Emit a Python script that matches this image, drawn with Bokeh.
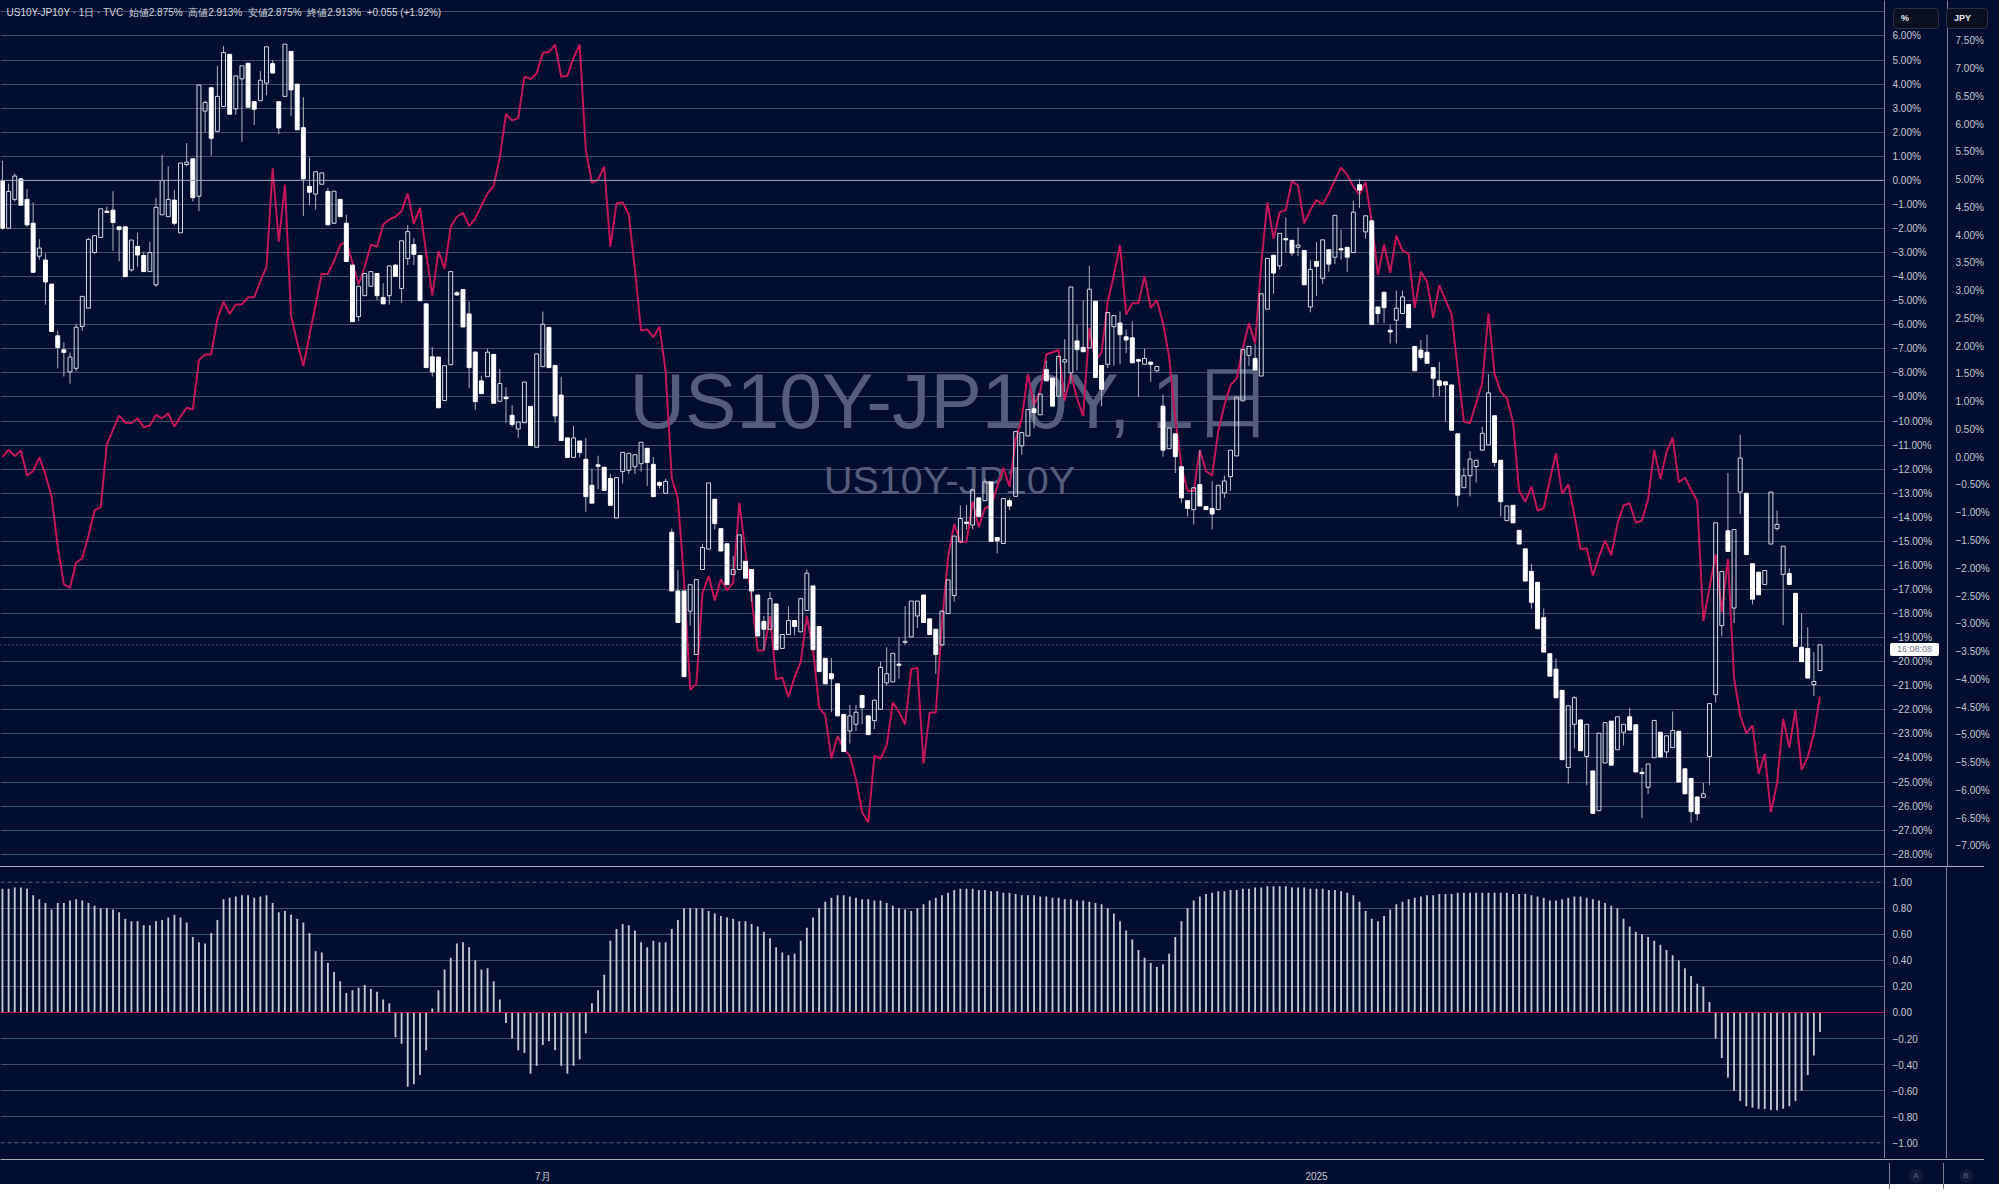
import numpy as np
from bokeh.plotting import figure
from bokeh.layouts import column
from bokeh.models import (Range1d, LinearAxis, FixedTicker, CustomJSTickFormatter, Span,
                          Label, Spacer, Grid, Div)
from bokeh.embed import file_html
from bokeh.resources import INLINE

# ---------------- data ----------------
opens = [-0.01,-1.99,-0.79,0.06,-0.79,-1.78,-3.15,-3.31,-4.31,-6.46,
-7.04,-7.96,-7.81,-6.07,-5.31,-3.00,-2.37,-1.28,-1.24,-1.93,
-1.93,-3.72,-2.75,-3.12,-3.79,-4.34,-1.43,-1.51,-0.82,-2.18,
0.66,0.90,-0.66,2.88,3.85,2.04,3.07,5.24,2.97,4.22,
4.87,3.27,3.31,4.04,4.85,3.27,3.49,5.36,4.00,2.19,
-0.25,-0.57,-0.16,-0.46,-1.78,-0.79,-1.78,-3.52,-5.66,-4.79,
-4.40,-3.87,-4.87,-4.79,-3.52,-4.49,-3.25,-2.67,-3.12,-5.13,
-7.33,-7.34,-9.15,-7.66,-4.67,-4.54,-5.55,-7.13,-8.33,-8.16,
-7.23,-9.18,-9.01,-9.76,-10.33,-10.07,-9.39,-11.09,-7.74,-6.11,
-7.69,-8.92,-10.70,-11.51,-10.83,-11.59,-12.67,-11.82,-11.92,-12.39,
-14.03,-12.10,-12.05,-11.90,-11.77,-11.13,-11.80,-12.55,-13.00,-14.62,
-17.06,-17.06,-17.90,-19.70,-16.17,-15.32,-13.25,-14.47,-15.10,-16.38,
-16.17,-15.83,-16.17,-17.23,-18.33,-18.65,-17.60,-19.45,-18.87,-18.29,
-18.76,-17.87,-16.85,-18.54,-19.86,-20.50,-20.92,-22.19,-22.88,-22.60,
-21.40,-22.25,-22.45,-21.98,-20.88,-20.84,-20.10,-19.20,-18.97,-18.10,
-17.23,-18.22,-18.65,-19.30,-18.00,-17.25,-15.02,-14.20,-14.32,-13.19,
-13.31,-12.53,-14.84,-15.09,-13.31,-13.13,-11.03,-10.62,-9.49,-9.74,
-7.86,-8.22,-8.97,-7.55,-8.00,-6.67,-6.94,-6.96,-5.02,-7.69,
-7.64,-6.08,-5.93,-6.50,-6.54,-7.45,-7.64,-7.55,-7.91,-9.38,
-11.15,-10.53,-11.90,-13.31,-13.68,-12.64,-13.55,-13.64,-13.68,-12.99,
-12.31,-11.45,-9.16,-7.27,-7.40,-8.13,-5.35,-3.11,-3.55,-2.42,
-2.49,-2.78,-2.91,-5.26,-3.37,-4.07,-2.88,-3.19,-2.84,-2.78,
-3.00,-0.18,-2.14,-1.68,-5.26,-4.65,-6.23,-5.81,-5.53,-5.16,
-6.90,-7.05,-7.14,-7.78,-8.33,-8.37,-8.50,-10.53,-12.77,-12.27,
-11.89,-11.21,-10.99,-9.78,-11.63,-14.14,-13.50,-14.54,-15.31,-16.25,
-16.70,-18.17,-19.67,-20.31,-21.19,-24.40,-22.60,-22.42,-23.94,-24.54,
-26.19,-24.21,-22.47,-23.66,-22.93,-22.29,-22.62,-24.60,-25.22,-23.99,
-22.93,-23.75,-23.57,-22.89,-24.45,-24.85,-25.62,-25.64,-23.94,-21.37,
-18.50,-14.56,-17.77,-12.95,-13.00,-15.93,-16.28,-16.79,-15.11,-14.47,
-16.37,-16.34,-17.16,-19.40,-19.45,-20.95,-20.37]

highs = [0.81,-0.13,0.28,0.10,-0.36,-0.91,-2.45,-3.03,-4.31,-6.25,
-6.73,-7.15,-5.96,-4.82,-2.40,-2.30,-1.18,-1.09,-0.45,-1.93,
-1.93,-2.48,-2.18,-2.96,-2.55,-0.72,1.07,0.58,-0.40,0.72,
1.55,0.90,3.96,3.31,3.85,4.76,5.58,5.24,4.34,4.76,
4.87,3.27,4.54,5.55,5.00,3.27,5.66,5.36,4.00,3.46,
0.96,0.36,0.31,-0.31,-0.45,-0.79,-1.43,-3.52,-4.40,-3.87,
-3.79,-3.87,-4.27,-3.55,-3.48,-2.51,-1.85,-2.40,-3.12,-5.13,
-6.93,-7.34,-7.70,-3.79,-4.60,-4.54,-5.04,-7.13,-8.12,-7.00,
-7.23,-7.84,-8.60,-9.34,-10.04,-8.38,-9.39,-7.21,-5.45,-6.11,
-7.69,-8.16,-10.70,-10.20,-10.83,-10.70,-11.97,-11.44,-11.92,-12.20,
-12.35,-11.30,-11.34,-11.40,-10.88,-11.13,-11.50,-12.50,-12.40,-14.47,
-16.20,-17.06,-16.80,-16.59,-15.10,-12.57,-13.25,-14.47,-15.10,-15.60,
-14.73,-15.83,-16.17,-17.23,-18.10,-17.10,-17.60,-18.87,-17.70,-18.29,
-17.38,-16.17,-16.85,-18.54,-19.86,-19.86,-20.92,-22.19,-21.80,-21.80,
-21.40,-22.25,-21.60,-20.00,-19.40,-19.65,-19.00,-17.70,-17.48,-17.48,
-17.23,-18.22,-18.65,-17.87,-16.59,-14.78,-13.50,-13.50,-12.86,-13.19,
-12.40,-12.53,-14.84,-13.22,-13.20,-10.44,-10.48,-9.52,-8.90,-8.88,
-7.50,-8.22,-7.31,-6.60,-4.43,-5.99,-4.98,-3.55,-5.02,-7.69,
-5.49,-5.62,-5.44,-6.20,-5.86,-7.40,-7.00,-7.55,-7.73,-8.90,
-10.29,-10.53,-11.90,-13.31,-12.77,-11.20,-13.55,-12.50,-12.67,-12.27,
-11.21,-9.01,-7.03,-6.90,-6.81,-4.71,-3.24,-3.11,-2.20,-1.54,
-2.49,-1.96,-2.91,-3.30,-2.56,-2.47,-2.88,-1.45,-2.05,-2.78,
-0.86,0.05,-1.47,-1.68,-5.26,-4.65,-6.00,-4.58,-4.58,-5.16,
-6.90,-6.63,-6.41,-7.78,-7.55,-8.37,-8.50,-10.53,-11.94,-11.25,
-11.63,-10.24,-8.06,-9.78,-11.63,-13.53,-13.50,-14.54,-15.31,-15.93,
-16.70,-17.80,-19.67,-19.87,-21.19,-21.83,-21.43,-22.42,-22.60,-24.54,
-22.97,-22.53,-22.47,-22.29,-22.60,-21.92,-22.62,-24.40,-24.25,-22.44,
-22.93,-23.08,-22.07,-22.89,-24.45,-24.85,-25.62,-25.04,-21.74,-14.23,
-16.25,-12.16,-14.51,-10.57,-13.00,-15.93,-16.28,-16.21,-12.95,-13.72,
-15.20,-16.12,-17.16,-17.99,-18.57,-19.60,-19.30]

lows = [-2.05,-2.00,-0.88,-1.03,-1.93,-3.82,-3.30,-5.16,-6.28,-7.81,
-8.15,-8.45,-7.93,-6.25,-5.31,-3.05,-2.37,-1.33,-2.93,-3.37,
-4.00,-3.80,-3.60,-3.79,-3.79,-4.43,-1.43,-1.51,-1.87,-2.18,
0.58,-0.88,-1.28,1.97,1.03,2.04,3.07,2.75,2.72,1.60,
3.04,2.30,3.31,3.54,4.46,1.93,3.49,2.67,2.10,-1.48,
-1.03,-1.21,-0.16,-1.85,-1.81,-1.51,-3.37,-5.87,-5.84,-4.79,
-4.40,-4.97,-5.13,-5.16,-3.99,-5.09,-3.52,-3.52,-5.00,-7.78,
-8.15,-9.45,-9.15,-7.66,-4.80,-6.09,-8.64,-9.54,-8.86,-8.16,
-9.26,-9.18,-10.07,-10.25,-10.70,-10.07,-11.02,-11.09,-7.74,-7.78,
-10.07,-10.81,-11.51,-11.51,-11.51,-13.77,-13.41,-12.82,-12.88,-13.50,
-14.03,-12.60,-12.20,-12.20,-12.10,-12.70,-13.14,-12.80,-13.00,-17.06,
-18.37,-20.62,-18.50,-19.70,-16.17,-15.32,-14.50,-15.40,-16.80,-16.38,
-16.17,-16.53,-17.50,-18.93,-19.50,-18.65,-19.50,-19.45,-18.87,-18.90,
-18.76,-17.87,-19.50,-20.41,-20.92,-22.10,-22.25,-23.73,-23.40,-22.88,
-22.60,-23.03,-22.80,-21.98,-21.00,-20.84,-20.70,-19.30,-18.97,-18.60,
-18.37,-18.87,-20.50,-19.36,-18.02,-17.50,-15.02,-14.50,-14.50,-13.96,
-13.31,-15.00,-15.50,-15.09,-13.70,-13.13,-11.40,-10.62,-10.30,-9.74,
-8.33,-9.38,-8.97,-8.80,-8.46,-7.90,-7.12,-6.96,-8.19,-9.38,
-7.80,-7.70,-7.64,-7.18,-7.58,-9.00,-7.64,-8.37,-8.00,-11.48,
-11.15,-12.16,-13.40,-13.96,-14.30,-13.53,-13.68,-14.50,-13.68,-13.20,
-12.90,-11.45,-9.16,-7.70,-7.88,-8.13,-5.35,-4.71,-3.70,-3.00,
-3.15,-3.15,-4.34,-5.48,-4.80,-4.30,-3.80,-3.48,-3.30,-3.80,
-3.00,-1.14,-2.42,-5.99,-5.93,-5.93,-6.78,-6.78,-5.53,-6.12,
-7.91,-7.45,-7.60,-9.01,-8.96,-10.02,-10.38,-13.55,-12.77,-13.13,
-12.55,-11.21,-10.99,-11.89,-13.96,-14.14,-14.23,-15.11,-16.65,-17.80,
-18.63,-19.60,-20.60,-21.50,-24.07,-25.07,-23.60,-23.70,-25.13,-26.30,
-26.19,-24.21,-24.30,-23.66,-23.48,-22.84,-24.58,-26.50,-25.50,-23.99,
-23.96,-24.00,-23.57,-25.00,-25.49,-26.69,-26.60,-25.64,-25.13,-21.70,
-18.94,-15.42,-18.39,-13.87,-15.55,-17.62,-17.22,-16.79,-15.11,-14.55,
-18.48,-16.79,-19.36,-20.00,-20.68,-21.43,-20.37]

closes = [-1.99,-0.46,0.18,-1.03,-1.85,-3.82,-2.81,-4.22,-6.28,-6.94,
-7.15,-7.34,-6.10,-4.82,-2.45,-2.30,-1.18,-1.33,-1.75,-2.04,
-4.00,-2.48,-3.10,-3.79,-3.00,-1.12,-0.01,-0.79,-1.78,0.72,
0.76,-0.72,3.96,3.24,1.75,3.49,5.31,2.75,4.34,4.76,
3.04,2.96,4.16,5.55,4.46,2.18,5.66,3.76,2.10,0.06,
-0.49,0.36,0.31,-1.85,-0.45,-1.51,-3.37,-5.87,-4.40,-3.87,
-3.79,-4.79,-5.13,-3.55,-3.99,-2.51,-2.13,-3.07,-5.00,-7.78,
-7.96,-9.45,-7.70,-3.79,-4.76,-6.09,-7.78,-9.19,-8.86,-7.14,
-9.26,-8.44,-9.07,-10.14,-10.04,-8.38,-11.02,-7.21,-5.98,-7.78,
-9.79,-10.81,-11.51,-10.70,-11.30,-13.14,-13.41,-11.88,-12.88,-13.50,
-12.35,-11.30,-11.34,-11.40,-10.88,-11.72,-13.14,-12.67,-12.51,-17.06,
-18.37,-20.62,-16.80,-16.59,-15.26,-12.57,-14.26,-15.40,-16.80,-16.17,
-14.73,-16.53,-17.06,-18.93,-18.65,-17.38,-19.50,-18.87,-18.29,-18.54,
-17.38,-16.32,-19.50,-20.41,-20.92,-20.71,-22.25,-23.73,-22.25,-22.10,
-21.90,-23.03,-21.60,-20.24,-20.50,-19.65,-20.15,-19.15,-17.48,-17.48,
-18.37,-18.87,-19.70,-17.90,-16.60,-14.78,-14.05,-14.25,-12.86,-13.96,
-12.53,-15.00,-14.98,-13.22,-13.53,-10.44,-10.48,-9.52,-9.65,-8.88,
-8.33,-9.38,-7.31,-7.45,-4.43,-7.03,-7.12,-4.52,-8.19,-8.68,
-5.49,-5.62,-6.41,-6.63,-7.58,-7.51,-7.40,-7.64,-7.73,-11.21,
-10.29,-11.48,-13.19,-13.63,-12.77,-13.53,-13.68,-13.86,-12.67,-12.49,
-11.21,-9.01,-7.03,-6.90,-7.88,-4.71,-3.24,-3.85,-2.20,-2.47,
-3.02,-2.69,-4.34,-3.70,-3.57,-2.47,-3.48,-1.45,-2.89,-3.19,
-1.32,-0.40,-1.47,-5.99,-5.53,-5.29,-6.30,-5.31,-4.84,-6.12,
-7.91,-7.36,-7.60,-8.22,-8.52,-8.50,-10.38,-13.08,-12.27,-11.58,
-11.63,-10.51,-8.83,-11.72,-13.35,-13.53,-14.23,-15.11,-16.65,-17.53,
-18.63,-19.60,-20.60,-21.50,-24.07,-21.83,-21.50,-23.70,-22.60,-26.30,
-22.97,-22.53,-24.30,-22.29,-22.60,-22.84,-24.58,-24.65,-24.25,-22.44,
-23.96,-23.08,-22.86,-25.00,-25.49,-26.23,-26.32,-25.49,-21.74,-14.23,
-16.25,-15.42,-14.51,-11.54,-15.55,-17.40,-17.22,-16.21,-12.95,-14.29,
-15.20,-16.79,-19.36,-20.00,-20.68,-20.82,-19.30]

# JPY overlay (right-most axis, %)
jpy = [0.00,0.13,0.02,0.12,-0.33,-0.25,0.00,-0.31,-0.71,-1.61,
-2.29,-2.35,-1.90,-1.82,-1.42,-0.96,-0.90,0.23,0.49,0.75,
0.62,0.61,0.70,0.54,0.57,0.76,0.70,0.79,0.55,0.73,
0.89,0.86,1.75,1.85,1.85,2.49,2.80,2.58,2.75,2.75,
2.88,2.88,3.17,3.43,5.20,3.88,4.91,2.55,2.07,1.64,
2.20,2.75,3.30,3.30,3.53,3.82,3.88,3.50,3.11,3.43,
3.83,3.79,4.19,4.28,4.33,4.43,4.75,4.20,4.49,3.68,
2.91,3.71,3.39,4.15,4.33,4.40,4.16,4.30,4.53,4.75,
4.89,5.40,6.18,6.06,6.11,6.85,6.81,6.91,7.28,7.30,
7.43,6.85,6.87,7.19,7.43,5.53,4.94,5.00,5.23,3.79,
4.57,4.59,4.37,3.38,2.28,2.30,2.16,2.35,1.54,-0.38,
-0.75,-2.22,-4.19,-4.08,-2.45,-2.14,-2.58,-2.20,-2.40,-2.26,
-0.82,-1.71,-2.54,-3.48,-3.48,-2.86,-4.00,-3.97,-4.32,-3.96,
-3.69,-2.86,-3.46,-4.51,-4.65,-5.43,-5.02,-5.25,-5.38,-5.80,
-6.39,-6.58,-5.38,-5.43,-5.19,-4.42,-4.59,-4.81,-3.82,-3.79,
-5.52,-4.60,-4.60,-3.00,-1.80,-1.20,-1.53,-1.52,-0.80,-1.26,
-0.92,-0.88,-0.53,-0.19,-0.53,0.31,0.70,1.50,0.94,1.18,
1.85,1.89,1.93,1.02,1.50,1.06,0.74,2.33,1.73,1.89,
2.80,3.28,3.82,2.57,2.77,2.77,3.26,2.69,2.83,2.41,
1.81,0.70,-0.17,-0.61,-0.61,0.13,-0.25,-0.33,0.47,0.94,
1.30,1.42,1.97,2.41,2.05,3.48,4.59,3.93,4.41,4.45,
4.97,4.89,4.21,4.45,4.63,4.55,4.75,4.99,5.22,5.08,
4.87,4.73,4.95,4.23,3.28,3.83,3.32,3.99,3.72,3.66,
2.69,3.34,3.16,2.51,3.10,2.83,2.57,1.58,0.64,0.61,
0.98,1.34,2.59,1.50,1.18,1.06,0.64,-0.61,-0.80,-0.53,
-0.96,-0.92,-0.41,0.07,-0.66,-0.49,-1.04,-1.66,-1.64,-2.13,
-1.79,-1.50,-1.77,-1.20,-0.87,-0.83,-1.18,-1.14,-0.76,0.13,
-0.39,0.09,0.35,-0.45,-0.37,-0.58,-0.79,-2.95,-2.35,-1.75,
-2.79,-1.83,-3.98,-4.65,-4.97,-4.83,-5.70,-5.34,-6.39,-5.87,
-4.71,-5.23,-4.55,-5.63,-5.40,-4.97,-4.31]

# correlation coefficient (lower pane)
corr = [0.95,0.95,0.96,0.96,0.95,0.90,0.87,0.84,0.79,0.84,
0.84,0.86,0.87,0.86,0.84,0.82,0.80,0.80,0.79,0.77,
0.72,0.70,0.70,0.67,0.67,0.70,0.71,0.73,0.75,0.73,
0.69,0.58,0.54,0.53,0.61,0.71,0.87,0.88,0.89,0.90,
0.90,0.88,0.89,0.90,0.84,0.77,0.78,0.75,0.72,0.69,
0.61,0.47,0.46,0.38,0.31,0.24,0.15,0.17,0.19,0.21,
0.18,0.16,0.10,0.07,-0.19,-0.24,-0.57,-0.55,-0.48,-0.29,
0.03,0.17,0.33,0.42,0.53,0.54,0.50,0.40,0.33,0.34,
0.24,0.10,-0.08,-0.20,-0.29,-0.31,-0.47,-0.41,-0.25,-0.22,
-0.29,-0.41,-0.47,-0.41,-0.36,-0.16,0.07,0.17,0.29,0.55,
0.64,0.68,0.67,0.63,0.54,0.50,0.55,0.54,0.54,0.64,
0.71,0.80,0.80,
0.80,0.80,0.78,0.76,0.74,0.73,0.72,0.70,
0.70,0.68,0.66,0.62,0.57,0.50,0.46,0.44,
0.45,0.55,0.65,0.73,0.80,0.85,0.88,
0.90,0.90,0.89,0.88,0.87,0.87,0.86,0.86,0.84,0.82,0.80,0.79,
0.78,0.80,0.83,0.86,0.88,0.90,
0.92,0.94,0.95,0.95,0.95,0.94,0.94,0.93,0.93,0.92,0.92,0.91,0.90,0.90,0.90,0.89,0.89,
0.88,0.88,0.87,0.87,0.86,0.86,0.85,0.84,0.83,0.80,0.76,
0.70,0.63,0.56,0.48,0.42,0.38,0.35,0.37,
0.45,0.58,0.70,0.80,0.86,0.89,0.91,
0.92,0.93,0.93,0.94,0.94,0.95,0.95,0.96,0.96,0.97,0.97,0.97,0.97,0.96,0.96,0.96,0.95,0.95,0.95,0.94,0.94,0.93,0.92,0.90,
0.85,0.78,0.72,0.70,0.74,0.79,
0.83,0.85,0.87,0.88,0.89,0.90,0.90,0.91,0.91,0.91,0.92,0.92,0.92,0.92,0.92,0.92,0.92,0.92,0.92,0.91,0.91,0.91,0.90,0.89,0.88,0.86,0.86,0.87,0.88,
0.89,0.89,0.88,0.87,0.86,0.84,0.82,0.80,
0.72,0.66,0.62,0.60,0.58,0.55,0.52,0.48,0.44,0.40,0.34,0.28,0.22,0.20,
0.08,
-0.20,-0.35,-0.50,-0.60,-0.68,-0.72,-0.73,-0.74,-0.74,-0.75,-0.75,-0.74,-0.72,-0.68,-0.60,-0.48,-0.33,-0.15]

pct_ticks = list(range(-28, 7))
pct_grid = list(range(-28, 8))
jpy_ticks = [k / 2 for k in range(-14, 16)]
corr_ticks = [-1.0, -0.8, -0.6, -0.4, -0.2, 0.0, 0.2, 0.4, 0.6, 0.8, 1.0]
corr_grid = [-0.8, -0.6, -0.4, -0.2, 0.2, 0.4, 0.6, 0.8]
x_ticks = [88, 214]
x_labels = {88: "7月", 214: "2025"}
header = "US10Y-JP10Y · 1日 · TVC\u00a0\u00a0始値2.875%\u00a0\u00a0高値2.913%\u00a0\u00a0安値2.875%\u00a0\u00a0終値2.913%\u00a0\u00a0+0.055 (+1.92%)"
watermark1 = "US10Y-JP10Y, 1日"
watermark2 = "US10Y-JP10Y"
countdown = "16:08:08"
scale_names = ["%", "JPY"]
pane_tags = ["A", "B"]

# ---------------- style ----------------
BG = "#010e30"
GRID = "#444e6a"
SEP = "#a9adb9"
AXLINE = "#7c8295"
LBL = "#c4c7cf"
CRIMSON = "#c2185b"
FONT = "Liberation Sans"
FW = 1884
H_MAIN = 866
H_LOW = 291
TOTAL_W = 1984
X0, X1 = -0.32, 306.5
Y0, Y1 = -28.51, 7.475
STRIP_TOP = H_MAIN + 1 + H_LOW
STRIP_H = 26

n = min(len(opens), len(highs), len(lows), len(closes), len(jpy), len(corr))
idx = np.arange(n)
o = np.array(opens[:n]); h = np.array(highs[:n]); l = np.array(lows[:n]); c = np.array(closes[:n])
top = np.maximum(o, c); bot = np.minimum(o, c)
up = c >= o

PCT_JS = "const v = Math.abs(tick) < 1e-9 ? 0 : tick; return (v < 0 ? '\u2212' : '') + Math.abs(v).toFixed(2) + '%';"
NUM_JS = "const v = Math.abs(tick) < 1e-9 ? 0 : tick; return (v < 0 ? '\u2212' : '') + Math.abs(v).toFixed(2);"


def style_axis(ax, pad):
    ax.axis_line_color = AXLINE
    ax.major_tick_line_color = None
    ax.minor_tick_line_color = None
    ax.major_tick_out = 0
    ax.major_tick_in = 0
    ax.minor_tick_out = 0
    ax.minor_tick_in = 0
    ax.major_label_text_color = LBL
    ax.major_label_text_font_size = "10px"
    ax.major_label_text_font = FONT
    ax.major_label_standoff = 8
    if pad is not None:
        ax.axis_label = "\u00a0"
        ax.axis_label_text_font_size = "1px"
        ax.axis_label_text_alpha = 0
        ax.axis_label_standoff = pad


def make_fig(**kw):
    f = figure(output_backend="svg", toolbar_location=None, min_border=0,
               background_fill_color=BG, border_fill_color=BG, outline_line_color=None, **kw)
    for g in f.grid:
        g.visible = False
    return f


# ---------------- main pane ----------------
p = make_fig(frame_width=FW, frame_height=H_MAIN, x_range=Range1d(X0, X1),
             y_range=Range1d(Y0, Y1), x_axis_location=None, y_axis_location=None)
p.extra_y_ranges = {"jpy": Range1d(-7.371, 8.224)}

ax_pct = LinearAxis(ticker=FixedTicker(ticks=pct_ticks), formatter=CustomJSTickFormatter(code=PCT_JS))
style_axis(ax_pct, 8)
p.add_layout(ax_pct, "right")
ax_jpy = LinearAxis(y_range_name="jpy", ticker=FixedTicker(ticks=jpy_ticks),
                    formatter=CustomJSTickFormatter(code=PCT_JS))
style_axis(ax_jpy, 3)
p.add_layout(ax_jpy, "right")

p.add_layout(Grid(dimension=1, ticker=FixedTicker(ticks=pct_grid), grid_line_color=GRID, grid_line_width=1))
p.add_layout(Span(location=0, dimension="width", line_color="#9da3b4", line_width=1))

# watermark
p.add_layout(Label(x=950, y=H_MAIN - 400, x_units="screen", y_units="screen", text=watermark1,
                   text_align="center", text_baseline="middle", text_font=FONT,
                   text_font_size="77px", text_color="#545d7b", level="underlay"))
p.add_layout(Label(x=949, y=H_MAIN - 479, x_units="screen", y_units="screen", text=watermark2,
                   text_align="center", text_baseline="middle", text_font=FONT,
                   text_font_size="39.5px", text_color="#545d7b", level="underlay"))

# JPY line
p.line(idx, jpy[:n], y_range_name="jpy", line_color=CRIMSON, line_width=2)

# candles
p.segment(idx, h, idx, top, line_color="#aeb2bd", line_width=1)
p.segment(idx, bot, idx, l, line_color="#aeb2bd", line_width=1)
p.vbar(x=idx[~up], width=0.64, top=top[~up], bottom=bot[~up], fill_color="#ffffff",
       line_color="#ffffff", line_width=1)
p.vbar(x=idx[up], width=0.64, top=top[up], bottom=bot[up], fill_alpha=0,
       line_color="#d6d9e0", line_width=1)

# last value line
last = closes[n - 1]
p.add_layout(Span(location=last, dimension="width", line_color="#8c92a4",
                  line_dash="1 3", line_width=1))

# header
p.add_layout(Label(x=6, y=H_MAIN - 12, x_units="screen", y_units="screen", text=header,
                   text_baseline="middle", text_font=FONT, text_font_size="10px",
                   text_color="#d4d7de"))

# ---------------- separator ----------------
sep = Spacer(width=TOTAL_W, height=1, styles={"background-color": SEP})

# ---------------- lower pane ----------------
q = make_fig(frame_width=FW, frame_height=H_LOW, x_range=p.x_range, y_range=Range1d(-1.121, 1.113),
             x_axis_location=None, y_axis_location=None)
ax_c = LinearAxis(ticker=FixedTicker(ticks=corr_ticks), formatter=CustomJSTickFormatter(code=NUM_JS))
style_axis(ax_c, 22)
q.add_layout(ax_c, "right")
ax_e = LinearAxis(ticker=FixedTicker(ticks=[]))
style_axis(ax_e, 30)
q.add_layout(ax_e, "right")
q.add_layout(Grid(dimension=1, ticker=FixedTicker(ticks=corr_grid), grid_line_color=GRID, grid_line_width=1))
for lv in (1.0, -1.0):
    q.add_layout(Span(location=lv, dimension="width", line_color="#5d6680", line_dash="4 3", line_width=1))
q.vbar(x=idx, width=0.3, top=corr[:n], bottom=0, fill_color="#c3c7d2", line_color=None)
q.add_layout(Span(location=0, dimension="width", line_color=CRIMSON, line_width=1))

# ---------------- time axis strip ----------------
t = make_fig(frame_width=TOTAL_W, frame_height=1, x_range=Range1d(X0, X0 + (X1 - X0) * TOTAL_W / FW),
             y_range=Range1d(0, 1), x_axis_location="below", y_axis_location=None,
             min_border_bottom=2)
t.xaxis.ticker = FixedTicker(ticks=x_ticks)
t.xaxis.major_label_overrides = x_labels
t.xaxis.axis_line_color = SEP
t.xaxis.major_tick_line_color = None
t.xaxis.minor_tick_line_color = None
t.xaxis.major_tick_out = 0
t.xaxis.major_label_standoff = 11
t.xaxis.major_label_text_color = LBL
t.xaxis.major_label_text_font_size = "10px"
t.xaxis.major_label_text_font = FONT

# ---------------- overlay of the price-scale chrome (outside the plot frames) ----------------
AX2 = FW + 54
y_last_px = (Y1 - last) / (Y1 - Y0) * H_MAIN
box = "position:absolute;box-sizing:border-box;font-family:'Liberation Sans',sans-serif;"
tag_y = STRIP_TOP + 6
html = (
    f'<div style="{box}left:{FW + 4}px;top:3px;width:46px;height:21px;background:#0b1020;'
    f'border:1px solid #2a3146;border-radius:4px;color:#e6e8ee;font-size:9px;font-weight:bold;'
    f'line-height:19px;padding-left:7px;">{scale_names[0]}</div>'
    f'<div style="{box}left:{AX2 + 3}px;top:3px;width:42px;height:21px;background:#0b1020;'
    f'border:1px solid #2a3146;border-radius:4px;color:#e6e8ee;font-size:9px;font-weight:bold;'
    f'line-height:19px;padding-left:7px;">{scale_names[1]}</div>'
    f'<div style="{box}left:{FW + 1}px;top:{y_last_px - 6.5:.1f}px;width:49px;height:13px;'
    f'background:#ffffff;border-radius:2px;color:#6f7484;font-size:9px;line-height:13px;'
    f'text-align:center;">{countdown}</div>'
    f'<div style="{box}left:{FW}px;top:{STRIP_TOP}px;width:1px;height:{STRIP_H}px;background:{AXLINE};"></div>'
    f'<div style="{box}left:{AX2}px;top:{STRIP_TOP}px;width:1px;height:{STRIP_H}px;background:{AXLINE};"></div>'
    f'<div style="{box}left:{FW + 20}px;top:{tag_y}px;width:14px;height:14px;border-radius:7px;'
    f'background:#121a3a;color:#5c6480;font-size:8px;line-height:14px;text-align:center;">{pane_tags[0]}</div>'
    f'<div style="{box}left:{AX2 + 16}px;top:{tag_y}px;width:14px;height:14px;border-radius:7px;'
    f'background:#121a3a;color:#5c6480;font-size:8px;line-height:14px;text-align:center;">{pane_tags[1]}</div>'
)
overlay = Div(text=html, width=TOTAL_W, height=STRIP_TOP + STRIP_H,
              styles={"position": "absolute", "left": "0px", "top": "0px", "pointer-events": "none"})

layout = column(p, sep, q, t, overlay, spacing=0,
                styles={"background-color": BG, "position": "relative"})
open("out.html", "w").write(file_html(layout, INLINE))
